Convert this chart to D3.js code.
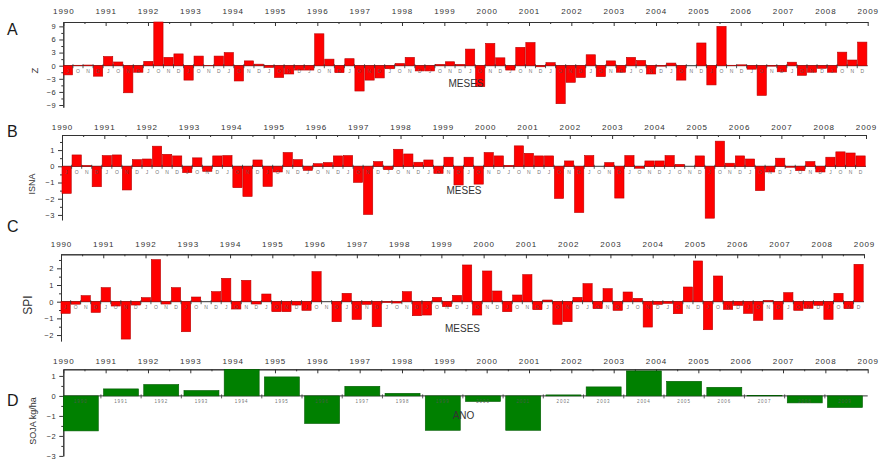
<!DOCTYPE html>
<html>
<head>
<meta charset="utf-8">
<script src="https://cdn.jsdelivr.net/npm/d3@7"></script>
<style>
  body { margin: 0; background: #fff; }
  svg { display: block; font-family: "Liberation Sans", Arial, sans-serif; }
</style>
</head>
<body>
<svg id="chart" width="880" height="460"></svg>
<script>
// Years shown on the top axis of every panel
const years = [1990, 1991, 1992, 1993, 1994, 1995, 1996, 1997, 1998, 1999,
               2000, 2001, 2002, 2003, 2004, 2005, 2006, 2007, 2008, 2009];
// Months of each season (Jan, Oct, Nov, Dec), repeated for every year
const monthCycle = ["J", "O", "N", "D"];

// A — Z index, one value per month (4 per year)
const zValues = [
  -2.1, 0.1, 0.15, -2.4,
   2.1, 0.85, -6.2, -1.5,
   1.0, 10.0, 1.9, 2.7,
  -3.3, 2.2, 0.05, 2.2,
   3.0, -3.5, 1.1, 0.35,
  -0.4, -2.7, -1.9, -1.0,
  -1.0, 7.3, 1.5, -1.6,
   1.6, -5.8, -3.3, -2.8,
  -0.7, 0.5, 1.9, -1.2,
  -1.2, 0.3, 0.9, 0.3,
   3.8, -4.8, 5.1, 1.8,
  -1.0, 4.2, 5.3, -0.25,
   0.7, -8.7, -3.8, -2.7,
   2.5, -2.5, 1.1, -1.5,
   1.9, 1.2, -1.9, -0.1,
   0.6, -3.3, 0.0, 5.2,
  -4.4, 9.0, 0.1, 0.2,
  -0.8, -6.8, -0.1, -1.4,
   0.8, -2.2, -1.5, -0.6,
  -1.5, 3.1, 1.3, 5.4
];

// B — ISNA index
const isnaValues = [
  -1.67, 0.7, 0.05, -1.26,
   0.66, 0.7, -1.46, 0.41,
   0.45, 1.24, 0.74, 0.64,
  -0.39, 0.52, -0.31, 0.64,
   0.66, -1.32, -1.86, 0.39,
  -1.24, -0.35, 0.85, 0.41,
  -0.25, 0.16, 0.23, 0.64,
   0.66, -0.99, -2.97, 0.29,
  -0.21, 1.05, 0.76, 0.25,
   0.39, -0.44, 0.56, -1.15,
   0.56, -1.1, 0.85, 0.64,
   0.06, 1.26, 0.8, 0.64,
   0.64, -1.98, 0.33, -2.85,
   0.66, 0.0, 0.23, -1.96,
   0.66, -0.12, 0.33, 0.33,
   0.66, 0.12, 0.0, 0.64,
  -3.2, 1.55, 0.19, 0.64,
   0.45, -1.5, -0.35, 0.5,
  -0.06, -0.27, 0.29, -0.35,
   0.56, 0.89, 0.82, 0.64
];

// C — SPI index
const spiValues = [
  -0.7, -0.15, 0.36, -0.64,
   0.84, -0.26, -2.24, -0.2,
   0.24, 2.52, -0.14, 0.84,
  -1.8, 0.28, 0.0, 0.6,
   1.4, -0.44, 1.28, -0.14,
   0.46, -0.6, -0.6, -0.2,
  -0.52, 1.8, 0.0, -1.2,
   0.5, -1.06, -0.16, -1.5,
  -0.05, -0.08, 0.6, -0.84,
  -0.8, 0.26, -0.3, 0.38,
   2.2, -0.8, 1.84, 0.64,
  -0.6, 0.4, 1.62, -0.48,
   0.1, -1.36, -1.2, 0.26,
   1.08, -0.42, 0.78, -0.52,
   0.58, 0.2, -1.52, -0.16,
  -0.1, -0.72, 0.88, 2.44,
  -1.68, 1.54, -0.46, -0.22,
  -0.7, -1.12, 0.08, -1.06,
   0.54, -0.52, -0.4, -0.22,
  -1.06, 0.5, -0.42, 2.24
];

// D — soybean yield anomaly (kg/ha), one value per year
const sojaValues = [-1.75, 0.35, 0.57, 0.27, 1.33, 0.95, -1.38, 0.48, 0.13, -1.72,
                    -0.28, -1.72, 0.05, 0.45, 1.25, 0.73, 0.43, 0.02, -0.35, -0.58];

// Tick values of the value axes
const zTicks = [-9, -6, -3, 0, 3, 6, 9];
const isnaTicks = [-3, -2, -1, 0, 1];
const spiTicks = [-2, -1, 0, 1, 2];
const sojaTicks = [-3, -2, -1, 0, 1];

const monthLabels = years.flatMap(() => monthCycle);

const svg = d3.select("#chart");
const inkColor = "#333";

const panels = [
  { letter: "A", letterY: 34.5, title: "Z", titleX: 38, titleY: 70.5, titleSize: 9.5,
    values: zValues, labels: monthLabels, xRange: [63.3, 867.7],
    yDomain: [-9.5, 10], yRange: [107.2, 22], ticks: zTicks, minorStep: 1.5,
    yearY: 13.5, axisName: "MESES", axisNameX: 466, axisNameY: 87,
    fill: "#ff0000", stroke: "#b80000", pad: 0.08, catSize: 5 },
  { letter: "B", letterY: 137, title: "ISNA", titleX: 35, titleY: 184, titleSize: 9,
    values: isnaValues, labels: monthLabels, xRange: [62, 866],
    yDomain: [-3.3, 1.93], yRange: [219.8, 135], ticks: isnaTicks, minorStep: 0.5,
    yearY: 129.5, axisName: "MESES", axisNameX: 464, axisNameY: 193.5,
    fill: "#ff0000", stroke: "#b80000", pad: 0.08, catSize: 5 },
  { letter: "C", letterY: 232, title: "SPI", titleX: 32, titleY: 305, titleSize: 12,
    values: spiValues, labels: monthLabels, xRange: [61, 864],
    yDomain: [-2.35, 2.84], yRange: [340.9, 254.3], ticks: spiTicks, minorStep: 0.5,
    yearY: 247, axisName: "MESES", axisNameX: 462.5, axisNameY: 332,
    fill: "#ff0000", stroke: "#b80000", pad: 0.08, catSize: 5 },
  { letter: "D", letterY: 406, title: "SOJA kg/ha", titleX: 35.5, titleY: 421, titleSize: 9,
    values: sojaValues, labels: years.map(String), xRange: [63.3, 867.7],
    yDomain: [-3, 1.33], yRange: [455.9, 369.3], ticks: sojaTicks, minorStep: 0.5,
    yearY: 363.5, axisName: "ANO", axisNameX: 463.5, axisNameY: 419,
    fill: "#008000", stroke: "#005a00", pad: 0.13, catSize: 4.5 }
];

panels.forEach(drawPanel);

function styleAxis(g) {
  g.selectAll("path.domain").attr("stroke", inkColor).attr("stroke-width", 1);
  g.selectAll(".tick line").attr("stroke", inkColor).attr("stroke-width", 1);
  g.selectAll(".tick text").attr("fill", inkColor);
}

function drawPanel(p) {
  const g = svg.append("g");
  const n = p.values.length;
  const topY = p.yRange[1];

  const year = d3.scaleLinear().domain([years[0], years[years.length - 1]]).range(p.xRange);
  const x = d3.scaleBand().domain(d3.range(n)).range(p.xRange)
    .paddingInner(p.pad).paddingOuter(p.pad / 2).align(0);
  const y = d3.scaleLinear().domain(p.yDomain).range(p.yRange);
  const y0 = y(0);

  // Panel letter
  g.append("text").attr("x", 7).attr("y", p.letterY)
    .attr("font-size", 16).attr("fill", "#1a1a1a").text(p.letter);

  // Value-axis title
  g.append("text")
    .attr("transform", `translate(${p.titleX},${p.titleY}) rotate(-90)`)
    .attr("text-anchor", "middle").attr("font-size", p.titleSize)
    .attr("fill", inkColor).text(p.title);

  // Top year axis, ticks pointing inward
  const halfYears = years.slice(0, -1).map(v => v + 0.5);
  const topMinor = g.append("g").attr("transform", `translate(0,${topY})`)
    .call(d3.axisTop(year).tickValues(halfYears).tickSize(-2).tickSizeOuter(0).tickFormat(""));
  styleAxis(topMinor);
  const topAxis = g.append("g").attr("transform", `translate(0,${topY})`)
    .call(d3.axisTop(year).tickValues(years).tickSize(-4).tickSizeOuter(0)
      .tickPadding(6).tickFormat(d3.format("d")));
  styleAxis(topAxis);
  topAxis.selectAll(".tick text").attr("font-size", 8).attr("letter-spacing", 0.9)
    .attr("y", null).attr("dy", null)
    .attr("transform", `translate(0,${p.yearY - topY})`);

  // Left value axis with minor ticks
  const [dLo, dHi] = p.yDomain;
  const minorVals = d3.range(Math.ceil(dLo / p.minorStep) * p.minorStep, dHi + 1e-9, p.minorStep)
    .filter(v => !p.ticks.some(t => Math.abs(t - v) < 1e-9));
  const leftMinor = g.append("g").attr("transform", `translate(${p.xRange[0]},0)`)
    .call(d3.axisLeft(y).tickValues(minorVals).tickSize(2).tickSizeOuter(0).tickFormat(""));
  styleAxis(leftMinor);
  const leftAxis = g.append("g").attr("transform", `translate(${p.xRange[0]},0)`)
    .call(d3.axisLeft(y).tickValues(p.ticks).tickSize(4).tickSizeOuter(0).tickPadding(3)
      .tickFormat(d3.format("d")));
  styleAxis(leftAxis);
  leftAxis.selectAll(".tick text").attr("font-size", 7.5).attr("letter-spacing", 0.6);

  // Zero line
  g.append("line").attr("x1", p.xRange[0]).attr("x2", p.xRange[1])
    .attr("y1", y0).attr("y2", y0).attr("stroke", inkColor).attr("stroke-width", 1);

  // Bars
  g.append("g").selectAll("rect").data(p.values).join("rect")
    .attr("x", (d, i) => x(i))
    .attr("width", x.bandwidth())
    .attr("y", d => Math.min(y(d), y0))
    .attr("height", d => Math.abs(y(d) - y0))
    .attr("fill", p.fill)
    .attr("stroke", p.stroke).attr("stroke-width", 0.6);

  // Small ticks on the zero line between categories
  const gap = x.step() - x.bandwidth();
  g.append("g").selectAll("line").data(d3.range(1, n)).join("line")
    .attr("x1", i => x(i) - gap / 2).attr("x2", i => x(i) - gap / 2)
    .attr("y1", y0 - 1.5).attr("y2", y0 + 2.5)
    .attr("stroke", inkColor).attr("stroke-width", 0.8);

  // Category labels under the zero line
  g.append("g").selectAll("text").data(p.labels).join("text")
    .attr("x", (d, i) => x(i) + x.bandwidth() / 2)
    .attr("y", y0 + 7.5)
    .attr("text-anchor", "middle")
    .attr("font-size", p.catSize)
    .attr("letter-spacing", p.labels === monthLabels ? 0 : 0.9)
    .attr("fill", "#555").attr("fill-opacity", 0.85)
    .text(d => d);

  // Category-axis name
  g.append("text").attr("x", p.axisNameX).attr("y", p.axisNameY)
    .attr("text-anchor", "middle").attr("font-size", 10)
    .attr("fill", inkColor).text(p.axisName);
}
</script>
</body>
</html>
